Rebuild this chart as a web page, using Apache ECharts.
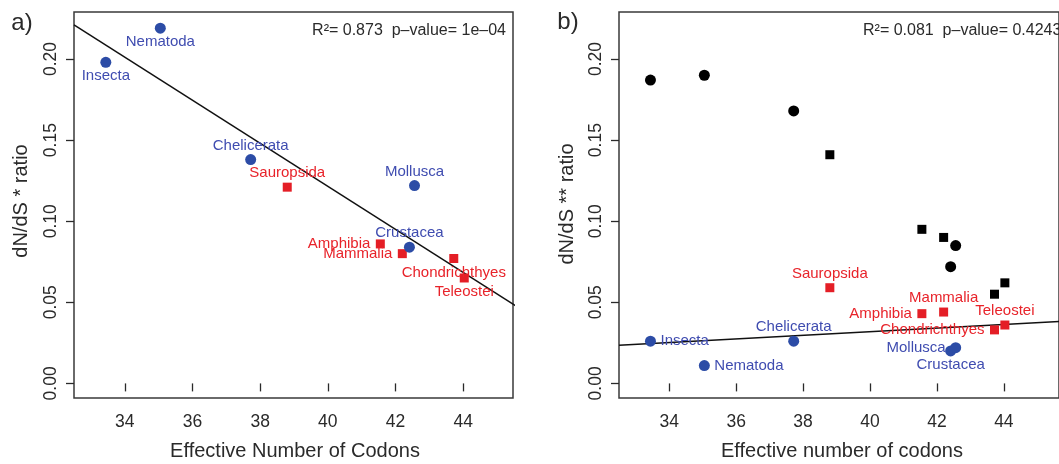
<!DOCTYPE html>
<html>
<head>
<meta charset="utf-8">
<script src="https://cdn.jsdelivr.net/npm/echarts@6/dist/echarts.min.js"></script>
<style>
html,body{margin:0;padding:0;background:#fff;}
#chart{width:1059px;height:464px;}
</style>
</head>
<body>
<div id="chart"></div>
<script>
// ---- data ----
const taxa = ['Insecta','Nematoda','Chelicerata','Sauropsida','Amphibia','Mammalia','Crustacea','Mollusca','Chondrichthyes','Teleostei'];
const groups = ['inv','inv','inv','vert','vert','vert','inv','inv','vert','vert'];
const enc = [33.44, 35.05, 37.72, 38.80, 41.55, 42.20, 42.41, 42.56, 43.72, 44.03];
const dndsA = [0.198, 0.219, 0.138, 0.121, 0.086, 0.080, 0.084, 0.122, 0.077, 0.065];
const dndsB = [0.026, 0.011, 0.026, 0.059, 0.043, 0.044, 0.020, 0.022, 0.033, 0.036];
const dndsBRef = [0.187, 0.190, 0.168, 0.141, 0.095, 0.090, 0.072, 0.085, 0.055, 0.062];
const labelPlaceA = ['below','below','above','above','left','left','above','above','below','below'];
const labelPlaceB = ['right','right','above','above','left','above','below','left','left','above'];
const fitA = [[32.5, 0.221], [45.7, 0.0458]];
const fitB = [[32.5, 0.0236], [45.7, 0.0382]];
const xTicks = [34, 36, 38, 40, 42, 44];
const yTicks = [0, 0.05, 0.10, 0.15, 0.20];
const statsA = 'R²= 0.873  p–value= 1e–04';
const statsB = 'R²= 0.081  p–value= 0.4243';

// ---- styles ----
const FONT = '"Liberation Sans", Arial, Helvetica, sans-serif';
const INK = '#2a2a2a';
const BLUE_PT = '#2c4ca6', BLUE_TX = '#3f4cb0';
const RED_PT = '#e41e26', RED_TX = '#e8232a';

function labelFor(place){
  const l = {show:true, position:'inside', fontFamily:FONT, fontSize:15, opacity:1};
  if (place === 'above') { l.offset = [0,-14]; l.align='center'; }
  else if (place === 'below') { l.offset = [0,14]; l.align='center'; }
  else if (place === 'left') { l.offset = [-10,0]; l.align='right'; }
  else { l.offset = [10,0]; l.align='left'; }
  l.verticalAlign = 'middle';
  return l;
}
function coloredData(ys, places){
  return taxa.map((t,i)=>{
    const inv = groups[i]==='inv';
    const lab = labelFor(places[i]);
    lab.formatter = t;
    lab.color = inv ? BLUE_TX : RED_TX;
    return {
      name:t,
      value:[enc[i], ys[i]],
      symbol: inv ? 'circle' : 'rect',
      symbolSize: inv ? 11 : 9,
      itemStyle:{color: inv ? BLUE_PT : RED_PT, opacity:1},
      label: lab
    };
  });
}
function refData(){
  return taxa.map((t,i)=>{
    const inv = groups[i]==='inv';
    return {value:[enc[i], dndsBRef[i]], symbol: inv?'circle':'rect', symbolSize: inv?11:9, itemStyle:{color:'#000', opacity:1}};
  });
}
function xAxis(idx, max){
  return {
    type:'value', gridIndex:idx, min:32.5, max:max,
    axisLine:{show:false},
    splitLine:{show:false},
    axisTick:{show:true, inside:false, length:8, customValues:xTicks, lineStyle:{color:INK, width:1.3}},
    axisLabel:{show:true, customValues:xTicks, margin:15, fontFamily:FONT, fontSize:17.5, color:INK, formatter:v=>String(v)}
  };
}
function yAxis(idx){
  return {
    type:'value', gridIndex:idx, min:-0.009, max:0.229,
    axisLine:{show:false},
    splitLine:{show:false},
    axisTick:{show:true, inside:false, length:8, customValues:yTicks, lineStyle:{color:INK, width:1.3}},
    axisLabel:{show:true, customValues:yTicks, rotate:90, margin:14, fontFamily:FONT, fontSize:17.5, color:INK, formatter:v=>v.toFixed(2)}
  };
}
const gridStyle = {show:true, borderColor:'#3a3a3a', borderWidth:1.5, backgroundColor:'transparent'};

const option = {
  animation:false,
  backgroundColor:'#fff',
  grid:[
    Object.assign({left:74, top:12, width:439, height:386}, gridStyle),
    Object.assign({left:619, top:12, width:445, height:386}, gridStyle)
  ],
  xAxis:[xAxis(0, 45.47), xAxis(1, 32.5 + 445*12.97/439)],
  yAxis:[yAxis(0), yAxis(1)],
  series:[
    {type:'line', xAxisIndex:0, yAxisIndex:0, data:fitA, symbol:'none', clip:true, lineStyle:{color:'#111', width:1.5}, z:1},
    {type:'scatter', xAxisIndex:0, yAxisIndex:0, data:coloredData(dndsA, labelPlaceA), itemStyle:{opacity:1}, z:3},
    {type:'line', xAxisIndex:1, yAxisIndex:1, data:fitB, symbol:'none', clip:true, lineStyle:{color:'#111', width:1.5}, z:1},
    {type:'scatter', xAxisIndex:1, yAxisIndex:1, data:refData(), itemStyle:{opacity:1}, z:3},
    {type:'scatter', xAxisIndex:1, yAxisIndex:1, data:coloredData(dndsB, labelPlaceB), itemStyle:{opacity:1}, z:3}
  ],
  graphic:[
    {type:'text', x:22, y:23, style:{text:'a)', font:'24px '+FONT, fill:INK, align:'center', verticalAlign:'middle'}},
    {type:'text', x:568, y:22, style:{text:'b)', font:'24px '+FONT, fill:INK, align:'center', verticalAlign:'middle'}},
    {type:'text', x:506, y:31, style:{text:statsA, font:'16px '+FONT, fill:INK, align:'right', verticalAlign:'middle'}},
    {type:'text', x:863, y:31, style:{text:statsB, font:'16px '+FONT, fill:INK, align:'left', verticalAlign:'middle'}},
    {type:'text', x:295, y:451, style:{text:'Effective Number of Codons', font:'20px '+FONT, fill:INK, align:'center', verticalAlign:'middle'}},
    {type:'text', x:842, y:451, style:{text:'Effective number of codons', font:'20px '+FONT, fill:INK, align:'center', verticalAlign:'middle'}},
    {type:'text', x:21, y:201, rotation:Math.PI/2, style:{text:'dN/dS * ratio', font:'20px '+FONT, fill:INK, align:'center', verticalAlign:'middle'}},
    {type:'text', x:567, y:204, rotation:Math.PI/2, style:{text:'dN/dS ** ratio', font:'20px '+FONT, fill:INK, align:'center', verticalAlign:'middle'}}
  ]
};
const chart = echarts.init(document.getElementById('chart'), null, {renderer:'canvas'});
chart.setOption(option);
</script>
</body>
</html>
